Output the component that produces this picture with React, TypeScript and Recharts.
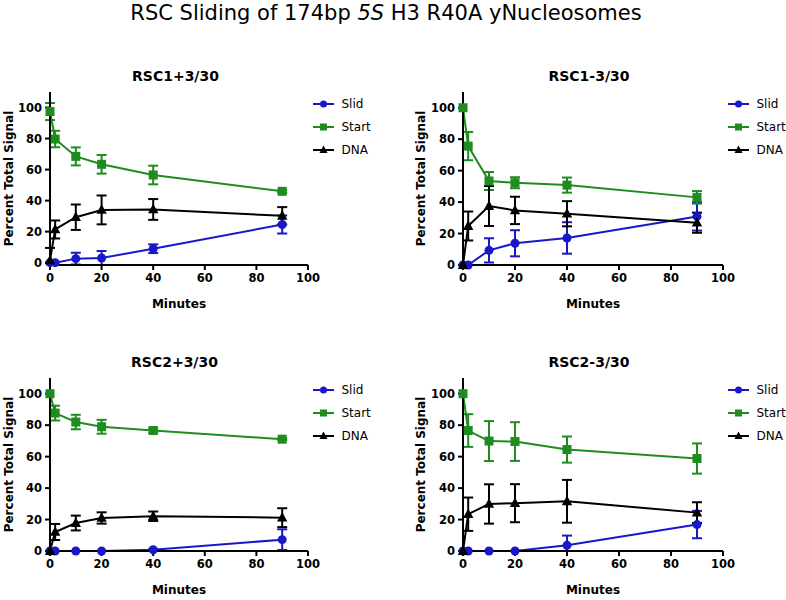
import React from 'react';
import { LineChart, Line, XAxis, YAxis, ErrorBar, Legend } from 'recharts';

// time points (minutes)
const MINUTES = [0, 2, 10, 20, 40, 90];
const X_TICKS = [0, 20, 40, 60, 80, 100];
const Y_TICKS = [0, 20, 40, 60, 80, 100];

// RSC1+3/30
const rsc1PlusSlid = [0, 0, 2.6, 3, 9, 24.6];
const rsc1PlusSlidErr = [0, 0, 3.8, 4.5, 2.8, 5.8];
const rsc1PlusStart = [97.4, 79.7, 68.5, 63.4, 56.5, 46];
const rsc1PlusStartErr = [5.5, 5.3, 5.8, 6, 6, 1];
const rsc1PlusDna = [1.5, 21.4, 29.3, 34, 34.3, 30.2];
const rsc1PlusDnaErr: (number | number[])[] = [[1.5, 8], 5.8, 8.2, 9.3, 6.7, 5.6];

// RSC1-3/30
const rsc1MinusSlid = [0, 0, 9.3, 13.8, 17.2, 30.9];
const rsc1MinusSlidErr = [0, 0, 7.7, 8.3, 10, 9];
const rsc1MinusStart = [100, 75.6, 53.4, 52.3, 50.8, 43];
const rsc1MinusStartErr = [0, 9, 5.7, 3.5, 4.8, 4];
const rsc1MinusDna = [0, 24.8, 37.5, 34.7, 32.6, 26.9];
const rsc1MinusDnaErr = [0, 9.2, 12.7, 8.7, 8, 6.4];

// RSC2+3/30
const rsc2PlusSlid = [0, 0, 0, 0, 0.8, 7.2];
const rsc2PlusSlidErr = [0, 0, 0, 0, 0.5, 6.6];
const rsc2PlusStart = [100, 87.7, 82, 79, 76.6, 71.1];
const rsc2PlusStartErr = [0, 4.7, 4.6, 4.4, 1.5, 0.5];
const rsc2PlusDna = [0, 12.1, 17.8, 21, 22.1, 21.2];
const rsc2PlusDnaErr = [0, 5.1, 4.7, 3.6, 3, 6];

// RSC2-3/30
const rsc2MinusSlid = [0, 0, 0, 0, 3.6, 16.8];
const rsc2MinusSlidErr: (number | number[])[] = [0, 0, 0, 0, [3.6, 6.2], 8.7];
const rsc2MinusStart = [100, 76.6, 69.9, 69.6, 64.5, 58.8];
const rsc2MinusStartErr = [0, 10.4, 12.7, 12.3, 8.3, 9.6];
const rsc2MinusDna = [0, 23.4, 29.9, 30.4, 31.6, 24.4];
const rsc2MinusDnaErr = [0, 10.6, 12.5, 12.1, 13.6, 6.6];

const BLUE = '#1818c8';
const GREEN = '#1e8c1e';
const BLACK = '#000000';
const FONT = '"DejaVu Sans", sans-serif';

const SERIES = [
  { key: 'slid', name: 'Slid', color: BLUE, shape: 'circle' },
  { key: 'start', name: 'Start', color: GREEN, shape: 'square' },
  { key: 'dna', name: 'DNA', color: BLACK, shape: 'triangle' },
];

function buildRows(slid, slidErr, start, startErr, dna, dnaErr) {
  return MINUTES.map((t, i) => ({
    t,
    slid: slid[i],
    slidErr: slidErr[i],
    start: start[i],
    startErr: startErr[i],
    dna: dna[i],
    dnaErr: dnaErr[i],
  }));
}

const Marker = ({ cx, cy, shape, color, size = 4.5 }: any) => {
  if (cx == null || cy == null) return null;
  if (shape === 'circle') return <circle cx={cx} cy={cy} r={size} fill={color} />;
  if (shape === 'square')
    return <rect x={cx - size} y={cy - size} width={size * 2} height={size * 2} fill={color} />;
  const s = size * 1.15;
  return (
    <polygon
      points={`${cx},${cy - s * 1.1} ${cx + s},${cy + s * 0.75} ${cx - s},${cy + s * 0.75}`}
      fill={color}
    />
  );
};

// keep legend in series order (Slid, Start, DNA)
const LegendContent = ({ payload }: any) => {
  const items = SERIES.filter((s) => (payload || []).some((p) => p.value === s.name));
  return (
    <div style={{ fontFamily: FONT, fontSize: 12, color: '#000' }}>
      {items.map((s) => (
        <div key={s.name} style={{ display: 'flex', alignItems: 'center', height: 23, whiteSpace: 'nowrap' }}>
          <svg width={22} height={12} style={{ display: 'block' }}>
            <line x1={0} y1={6} x2={21} y2={6} stroke={s.color} strokeWidth={2} />
            <Marker cx={10.5} cy={6} shape={s.shape} color={s.color} size={3.5} />
          </svg>
          <span style={{ marginLeft: 6.5 }}>{s.name}</span>
        </div>
      ))}
    </div>
  );
};

const tickStyle = { fill: '#000', fontSize: 11.5, fontWeight: 'bold', fontFamily: FONT };
const labelStyle = { fill: '#000', fontSize: 12, fontWeight: 'bold', fontFamily: FONT };

function Panel({ data, left, top, axisWidth, right, labelOffset, legendLeft }: any) {
  return (
    <div style={{ position: 'absolute', left, top }}>
      <LineChart width={393} height={260} data={data} margin={{ top: 32, right, bottom: 12, left: 0 }}>
        <XAxis
          dataKey="t"
          type="number"
          domain={[0, 100]}
          ticks={X_TICKS}
          height={43}
          tickSize={5}
          tickMargin={4}
          tick={tickStyle}
          axisLine={{ stroke: '#000', strokeWidth: 2 }}
          tickLine={{ stroke: '#000', strokeWidth: 2 }}
          label={{ value: 'Minutes', position: 'insideBottom', offset: 0, style: labelStyle }}
        />
        <YAxis
          type="number"
          domain={[0, 110]}
          ticks={Y_TICKS}
          width={axisWidth}
          tickSize={5}
          tickMargin={3}
          tick={tickStyle}
          axisLine={{ stroke: '#000', strokeWidth: 2 }}
          tickLine={{ stroke: '#000', strokeWidth: 2 }}
          label={{
            value: 'Percent Total Signal',
            angle: -90,
            position: 'insideLeft',
            offset: labelOffset,
            style: { ...labelStyle, textAnchor: 'middle' },
          }}
        />
        <Legend
          layout="vertical"
          align="center"
          verticalAlign="middle"
          content={<LegendContent />}
          wrapperStyle={{ left: legendLeft, top: 32.5, right: 'auto', bottom: 'auto' }}
        />
        {SERIES.map((s) => (
          <Line
            key={s.key}
            dataKey={s.key}
            name={s.name}
            type="linear"
            stroke={s.color}
            strokeWidth={2}
            isAnimationActive={false}
            dot={(p: any) => <Marker key={`${s.key}-${p.index}`} cx={p.cx} cy={p.cy} shape={s.shape} color={s.color} />}
            activeDot={false}
          >
            <ErrorBar dataKey={`${s.key}Err`} direction="y" width={5} stroke={s.color} strokeWidth={2} />
          </Line>
        ))}
      </LineChart>
    </div>
  );
}

const PanelTitle = ({ text, cx, cy }: any) => (
  <div
    style={{
      position: 'absolute',
      left: cx - 100,
      top: cy - 6.7,
      width: 200,
      textAlign: 'center',
      fontFamily: FONT,
      fontWeight: 'bold',
      fontSize: 14,
      lineHeight: '14px',
      color: '#000',
    }}
  >
    {text}
  </div>
);

export default function App() {
  const p1 = buildRows(rsc1PlusSlid, rsc1PlusSlidErr, rsc1PlusStart, rsc1PlusStartErr, rsc1PlusDna, rsc1PlusDnaErr);
  const p2 = buildRows(rsc1MinusSlid, rsc1MinusSlidErr, rsc1MinusStart, rsc1MinusStartErr, rsc1MinusDna, rsc1MinusDnaErr);
  const p3 = buildRows(rsc2PlusSlid, rsc2PlusSlidErr, rsc2PlusStart, rsc2PlusStartErr, rsc2PlusDna, rsc2PlusDnaErr);
  const p4 = buildRows(rsc2MinusSlid, rsc2MinusSlidErr, rsc2MinusStart, rsc2MinusStartErr, rsc2MinusDna, rsc2MinusDnaErr);

  return (
    <div
      style={{
        position: 'absolute',
        left: 0,
        top: 0,
        width: 786,
        height: 600,
        overflow: 'hidden',
        background: '#fff',
        fontFamily: FONT,
      }}
    >
      <div
        style={{
          position: 'absolute',
          left: 0,
          top: 1,
          width: 772,
          textAlign: 'center',
          fontSize: 21,
          lineHeight: '24px',
          color: '#000',
        }}
      >
        RSC Sliding of 174bp <i>5S</i> H3 R40A yNucleosomes
      </div>

      <PanelTitle text="RSC1+3/30" cx={175.5} cy={76} />
      <PanelTitle text="RSC1-3/30" cx={589} cy={76} />
      <PanelTitle text="RSC2+3/30" cx={174.5} cy={362} />
      <PanelTitle text="RSC2-3/30" cx={589} cy={362} />

      <Panel data={p1} left={0} top={60} axisWidth={50} right={85} labelOffset={8.5} legendLeft={313} />
      <Panel data={p2} left={393} top={60} axisWidth={70} right={63} labelOffset={27.5} legendLeft={335} />
      <Panel data={p3} left={0} top={346} axisWidth={50} right={85} labelOffset={8.5} legendLeft={313} />
      <Panel data={p4} left={393} top={346} axisWidth={70} right={63} labelOffset={27.5} legendLeft={335} />
    </div>
  );
}
